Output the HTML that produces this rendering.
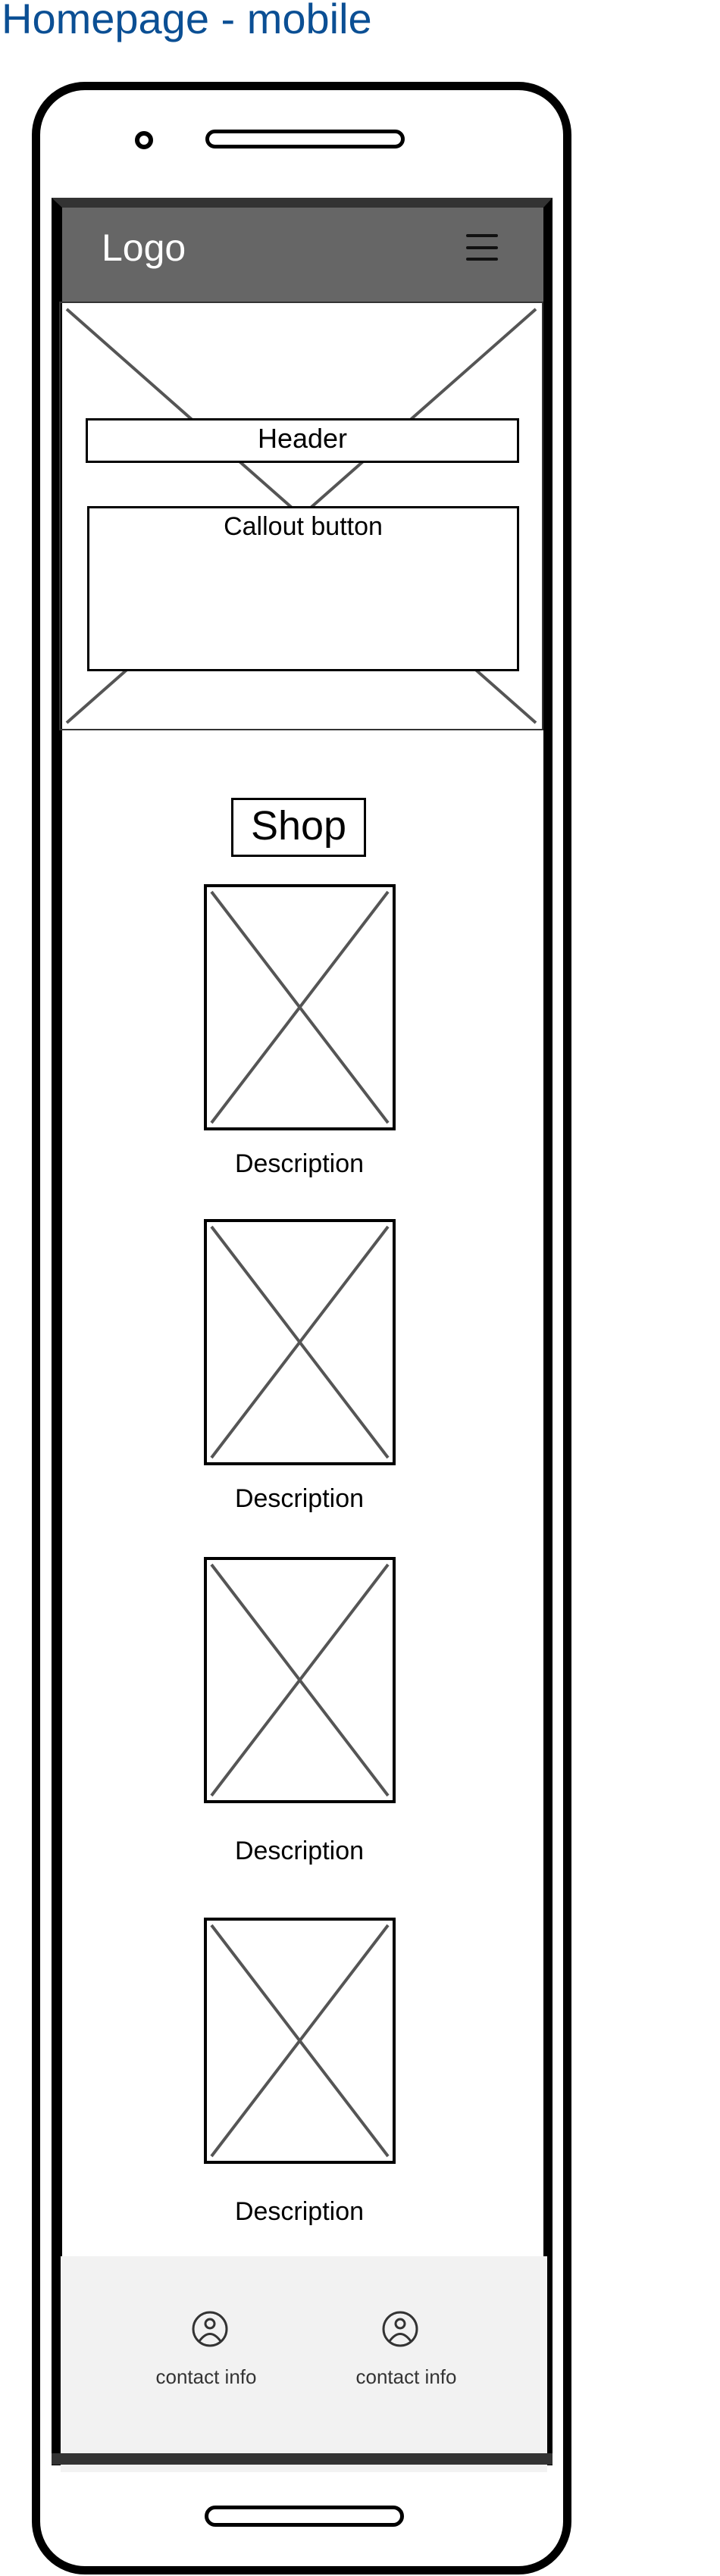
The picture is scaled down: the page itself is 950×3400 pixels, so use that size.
<!DOCTYPE html>
<html><head><meta charset="utf-8"><style>
body{margin:0;width:950px;height:3400px;background:#fff;position:relative;overflow:hidden;font-family:"Liberation Sans",sans-serif}
.a{position:absolute;box-sizing:border-box}
.t{position:absolute;text-align:center;color:#000;white-space:nowrap}
</style></head><body>
<div class="a" style="left:2px;top:-8px;font-size:56px;color:#0b4f94">Homepage - mobile</div>

<div class="a" style="left:42px;top:108px;width:712px;height:3290px;border:11px solid #000;border-radius:70px"></div>
<div class="a" style="left:178px;top:173px;width:24px;height:24px;border:6px solid #000;border-radius:50%"></div>
<div class="a" style="left:271px;top:171px;width:263px;height:25px;border:5px solid #000;border-radius:14px"></div>

<div class="a" style="left:68px;top:261px;width:661px;height:2993px;border-left:14px solid #000;border-right:12px solid #000;border-top:13px solid #333"></div>
<div class="a" style="left:82px;top:274px;width:635px;height:124px;background:#666"></div>
<div class="t" style="left:134px;top:298px;font-size:50px;color:#fff">Logo</div>
<div class="a" style="left:615px;top:309px;width:42px;height:36px">
<div class="a" style="left:0;top:0;width:42px;height:4px;background:#111;border-radius:2px"></div>
<div class="a" style="left:0;top:16px;width:42px;height:4px;background:#111;border-radius:2px"></div>
<div class="a" style="left:0;top:31px;width:42px;height:4px;background:#111;border-radius:2px"></div>
</div>

<div class="a" style="left:78px;top:398px;width:639px;height:566px;border:2px solid #333">
<svg width="635" height="562" style="position:absolute;left:0;top:0"><line x1="8" y1="8" x2="627" y2="554" stroke="#555" stroke-width="4"/><line x1="627" y1="8" x2="8" y2="554" stroke="#555" stroke-width="4"/></svg>
</div>
<div class="a" style="left:113px;top:552px;width:572px;height:59px;border:3px solid #000;background:#fff"></div>
<div class="t" style="left:113px;top:558px;width:572px;font-size:36px">Header</div>
<div class="a" style="left:115px;top:668px;width:570px;height:218px;border:3px solid #000;background:#fff"></div>
<div class="t" style="left:115px;top:676px;width:570px;font-size:34px">Callout button</div>

<div class="a" style="left:305px;top:1053px;width:178px;height:78px;border:3px solid #000"></div>
<div class="t" style="left:305px;top:1059px;width:178px;font-size:54px">Shop</div>

<div id="products"></div>

<div class="a" style="left:80px;top:2978px;width:642px;height:285px;background:#f2f2f2"></div>
<div class="a" style="left:68px;top:3238px;width:661px;height:15px;background:#333"></div>
<svg class="a" style="left:252px;top:3049px" width="50" height="50"><circle cx="25" cy="25" r="22" fill="none" stroke="#333" stroke-width="3"/><circle cx="25" cy="18" r="6" fill="none" stroke="#333" stroke-width="3"/><path d="M11 41 Q25 22 39 41" fill="none" stroke="#333" stroke-width="3"/></svg>
<svg class="a" style="left:503px;top:3049px" width="50" height="50"><circle cx="25" cy="25" r="22" fill="none" stroke="#333" stroke-width="3"/><circle cx="25" cy="18" r="6" fill="none" stroke="#333" stroke-width="3"/><path d="M11 41 Q25 22 39 41" fill="none" stroke="#333" stroke-width="3"/></svg>
<div class="t" style="left:172px;top:3122px;width:200px;font-size:26px;color:#333">contact info</div>
<div class="t" style="left:436px;top:3122px;width:200px;font-size:26px;color:#333">contact info</div>

<div class="a" style="left:270px;top:3307px;width:263px;height:28px;border:5px solid #000;border-radius:15px"></div>

<script>
const productTops=[1167,1609,2055,2531];
const descOffsets=[39,39,58,58];
const wrap=document.getElementById('products');
productTops.forEach((top,i)=>{
  const box=document.createElement('div');
  box.className='a';
  
  
  box.style.cssText='left:269px;top:'+top+'px;width:253px;height:325px;border:4px solid #000';
  box.innerHTML='<svg width="245" height="317" style="position:absolute;left:0;top:0"><line x1="6" y1="6" x2="239" y2="311" stroke="#555" stroke-width="4"/><line x1="239" y1="6" x2="6" y2="311" stroke="#555" stroke-width="4"/></svg>';
  wrap.appendChild(box);
  const d=document.createElement('div');
  d.className='t';
  
  
  d.style.cssText='left:245px;width:300px;font-size:34px;top:'+(top+325+descOffsets[i]-14)+'px';
  d.textContent='Description';
  wrap.appendChild(d);
});
</script>
</body></html>
